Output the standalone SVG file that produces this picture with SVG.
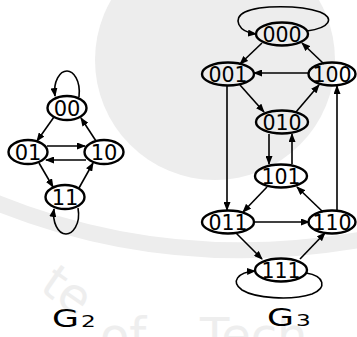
<svg xmlns="http://www.w3.org/2000/svg" width="357" height="337" viewBox="0 0 357 337">
  <defs>
    <marker id="arrow" markerUnits="userSpaceOnUse" markerWidth="9" markerHeight="7" refX="8" refY="3.5" orient="auto">
      <path d="M0,0 L9,3.5 L0,7 z" fill="#000"/>
    </marker>
  </defs>
  <style>
    .node ellipse { fill: none; stroke: #000; stroke-width: 2.4; }
    .node text { font-family: "DejaVu Sans", sans-serif; text-anchor: middle; fill: #000; }
    .g2 text { font-size: 21px; }
    .g3 text { font-size: 20.5px; }
    .edges path, .edges line { fill: none; stroke: #000; stroke-width: 1.6; marker-end: url(#arrow); }
    .title { font-family: "DejaVu Sans", sans-serif; fill: #000; }
    .wm { fill: #ededed; }
    .wmline { fill: none; stroke: #ededed; }
    .wmtext { font-family: "DejaVu Sans", sans-serif; fill: #eeeeee; font-size: 48px; }
  </style>

  <!-- faint background emblem -->
  <g id="background">
    <rect width="357" height="337" fill="#fff"/>
    <circle class="wm" cx="215" cy="60" r="120"/>
    <path class="wmline" d="M-10,200 Q170,275 370,238" stroke-width="16"/>
    <text class="wmtext" transform="translate(38,290) rotate(35)">te</text>
    <text class="wmtext" x="100" y="352">of</text>
    <text class="wmtext" x="200" y="352">Tech</text>
  </g>

  <!-- connectors -->
  <g id="connectors" class="edges">
    <!-- G2 -->
    <path d="M79,97 C81,80 73,71 67,71 C60,71 53,81 55,96"/>
    <line x1="54" y1="117" x2="37" y2="141"/>
    <line x1="96" y1="141" x2="81" y2="118"/>
    <line x1="47" y1="146" x2="85" y2="146"/>
    <line x1="86" y1="160" x2="46" y2="160"/>
    <line x1="39" y1="163" x2="53" y2="187"/>
    <line x1="79" y1="188" x2="93" y2="163"/>
    <path d="M78,208 C81,225 72,234 66,234 C58,234 52,222 54,209"/>
    <!-- G3 -->
    <path d="M307,31 C330,28 335,18 320,12 C300,5 260,5 245,12 C232,18 238,32 256,34"/>
    <line x1="262" y1="43" x2="240" y2="64"/>
    <line x1="324" y1="64" x2="302" y2="43"/>
    <line x1="309" y1="73" x2="254" y2="73"/>
    <line x1="240" y1="85" x2="264" y2="112"/>
    <line x1="296" y1="112" x2="319" y2="85"/>
    <line x1="227" y1="86" x2="227" y2="210"/>
    <line x1="337" y1="210" x2="337" y2="86"/>
    <line x1="269" y1="134" x2="269" y2="164"/>
    <line x1="292" y1="164" x2="292" y2="134"/>
    <line x1="267" y1="187" x2="243" y2="212"/>
    <line x1="323" y1="212" x2="297" y2="187"/>
    <line x1="254" y1="222" x2="309" y2="222"/>
    <line x1="236" y1="233" x2="262" y2="259"/>
    <line x1="300" y1="259" x2="325" y2="233"/>
    <path d="M306,273 C325,276 327,288 312,294 C290,301 255,298 242,290 C230,282 238,272 255,271"/>
  </g>

  <!-- G2 nodes -->
  <g id="n2-00" class="node g2"><ellipse cx="67" cy="108" rx="19.5" ry="12"/><text x="67" y="115.5">00</text></g>
  <g id="n2-01" class="node g2"><ellipse cx="28" cy="152" rx="19.5" ry="12"/><text x="28" y="159.5">01</text></g>
  <g id="n2-10" class="node g2"><ellipse cx="104" cy="152" rx="19.5" ry="12"/><text x="104" y="159.5">10</text></g>
  <g id="n2-11" class="node g2"><ellipse cx="65" cy="197" rx="19.5" ry="12"/><text x="65" y="204.5">11</text></g>

  <!-- G3 nodes -->
  <g id="n3-000" class="node g3"><ellipse cx="282" cy="34" rx="26" ry="11.5"/><text x="282" y="41.5">000</text></g>
  <g id="n3-001" class="node g3"><ellipse cx="228" cy="74" rx="26" ry="11.5"/><text x="228" y="81.5">001</text></g>
  <g id="n3-100" class="node g3"><ellipse cx="332" cy="74" rx="23.5" ry="11.5"/><text x="332" y="81.5">100</text></g>
  <g id="n3-010" class="node g3"><ellipse cx="282" cy="122" rx="26" ry="11.5"/><text x="282" y="129.5">010</text></g>
  <g id="n3-101" class="node g3"><ellipse cx="281" cy="176" rx="26" ry="11.5"/><text x="281" y="183.5">101</text></g>
  <g id="n3-011" class="node g3"><ellipse cx="228" cy="222" rx="26" ry="11.5"/><text x="228" y="229.5">011</text></g>
  <g id="n3-110" class="node g3"><ellipse cx="332" cy="222" rx="23.5" ry="11.5"/><text x="332" y="229.5">110</text></g>
  <g id="n3-111" class="node g3"><ellipse cx="281" cy="270" rx="26" ry="11.5"/><text x="281" y="277.5">111</text></g>

  <!-- graph titles -->
  <g id="label-G2" class="title" transform="translate(52,327) scale(1.45,1)">
    <text x="0" y="0" font-size="24">G</text><text x="20" y="0" font-size="16">2</text>
  </g>
  <g id="label-G3" class="title" transform="translate(267,326) scale(1.45,1)">
    <text x="0" y="0" font-size="24">G</text><text x="20" y="0" font-size="16">3</text>
  </g>
</svg>
